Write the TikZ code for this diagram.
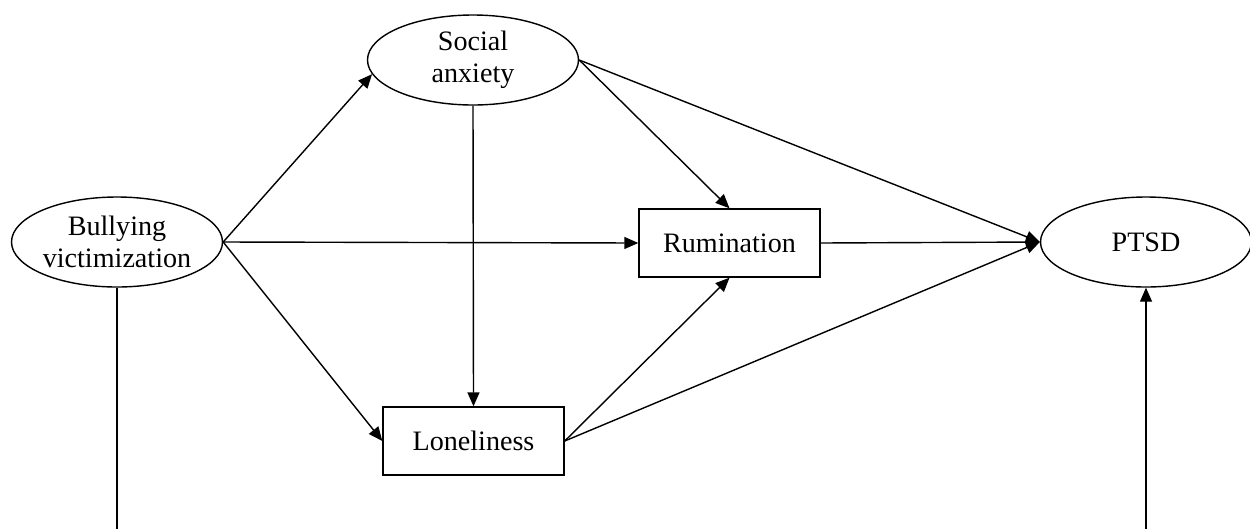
\documentclass[tikz,border=0pt]{standalone}
\usepackage{fontspec}
\setmainfont{Liberation Serif}
\usetikzlibrary{shapes.geometric, arrows.meta}
\begin{document}
\begin{tikzpicture}[every node/.style={font=\fontsize{16}{18}\selectfont}, line width=0.8pt]
  \tikzstyle{lat}=[draw, ellipse, inner sep=0pt, minimum width=4.22cm, minimum height=1.8cm, align=center]
  \tikzstyle{obs}=[draw, rectangle, inner sep=0pt, minimum width=3.62cm, minimum height=1.36cm]
  \tikzstyle{arr}=[-{Triangle[length=2.8mm, width=2.4mm]}]
  \clip (0, 0) rectangle (25, -10.56);
  \node[lat] (bully) at (2.34, -4.84) {Bullying\\victimization};
  \node[lat] (social) at (9.46, -1.2) {Social\\anxiety};
  \node[lat] (ptsd) at (22.92, -4.84) {PTSD};
  \node[obs] (rumin) at (14.59, -4.86) {Rumination};
  \node[obs] (lonely) at (9.47, -8.82) {Loneliness};
  \coordinate (down) at (2.34, -11);
  \draw[arr] (bully.east) -- (social.188);
  \draw[arr] (bully.east) -- (rumin.west);
  \draw[arr] (bully.east) -- (lonely.west);
  \draw[arr] (social.south) -- (lonely.north);
  \draw[arr] (social.east) -- (rumin.north);
  \draw[arr] (social.east) -- (ptsd.west);
  \draw[arr] (rumin.east) -- (ptsd.west);
  \draw[arr] (lonely.east) -- (rumin.south);
  \draw[arr] (lonely.east) -- (ptsd.west);
  \draw[arr] (bully.south) -- (down) -| (ptsd.south);
\end{tikzpicture}
\end{document}
